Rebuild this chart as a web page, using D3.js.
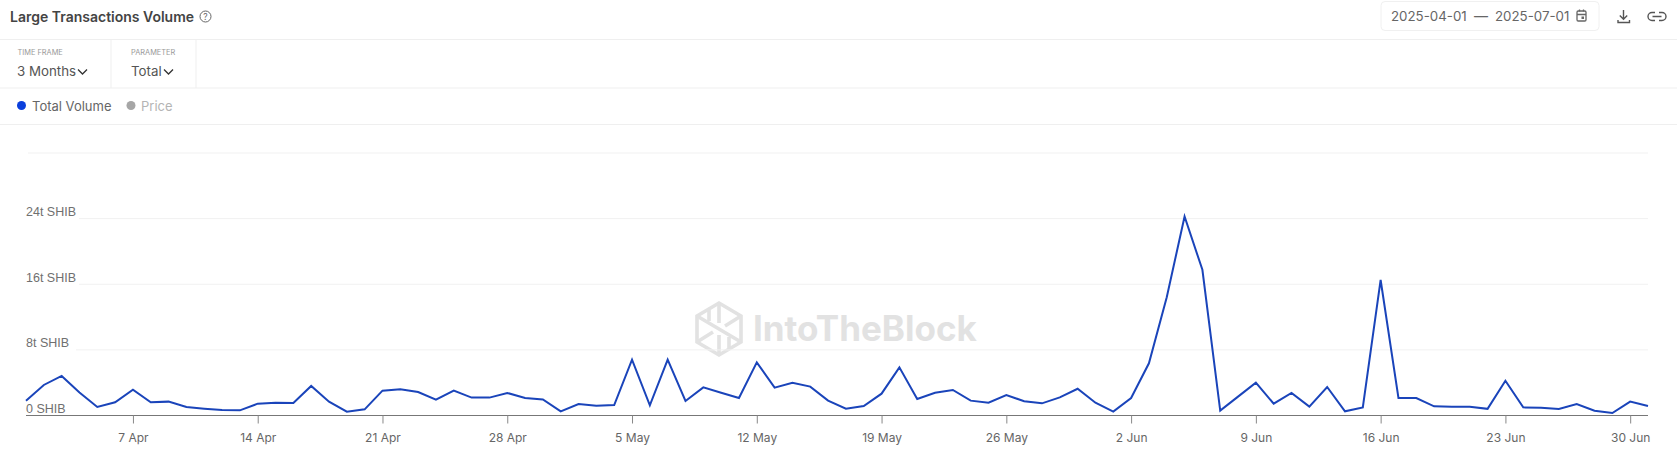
<!DOCTYPE html>
<html><head><meta charset="utf-8">
<script src="https://cdn.jsdelivr.net/npm/d3@7/dist/d3.min.js"></script>
<style>
html,body{margin:0;padding:0;background:#fff;overflow:hidden}
svg{display:block;font-family:Inter,"Noto Sans",sans-serif}
</style></head><body>
<svg id="c" width="1677" height="451"></svg>
<script>
const startDate = "2025-04-01";
const volumes = [
 1.75,3.66,4.76,2.73,0.98,1.55,3.09,1.55,1.63,0.98,0.77,0.60,0.57,1.38,1.50,1.47,3.54,1.63,0.41,0.69,
 2.97,3.13,2.80,1.87,2.97,2.12,2.12,2.69,2.08,1.90,0.45,1.34,1.14,1.22,6.75,1.18,6.75,1.71,3.37,2.72,2.07,
 6.42,3.33,3.94,3.46,1.75,0.77,1.10,2.60,5.81,1.95,2.72,3.05,1.75,1.50,2.44,1.67,1.42,2.15,3.20,1.50,0.41,
 2.07,6.30,14.35,24.20,17.70,0.53,2.24,3.94,1.38,2.68,1.02,3.41,0.45,0.93,16.46,2.07,2.07,1.06,1.02,1.02,
 0.75,4.17,0.93,0.89,0.73,1.34,0.53,0.24,1.63,1.10];
const yTicks = [0,8,16,24,32];
const yTickLabels = ["0 SHIB","8t SHIB","16t SHIB","24t SHIB",""];
const xTickDates = ["2025-04-07","2025-04-14","2025-04-21","2025-04-28","2025-05-05","2025-05-12","2025-05-19","2025-05-26","2025-06-02","2025-06-09","2025-06-16","2025-06-23","2025-06-30"];
const xTickLabels = ["7 Apr","14 Apr","21 Apr","28 Apr","5 May","12 May","19 May","26 May","2 Jun","9 Jun","16 Jun","23 Jun","30 Jun"];

const svg = d3.select("#c");
const day0 = new Date(startDate+"T00:00:00Z");
const dates = volumes.map((_,i)=>d3.utcDay.offset(day0,i));
const x = d3.scaleUtc().domain([dates[0],dates[dates.length-1]]).range([26,1648]);
const y = d3.scaleLinear().domain([0,32]).range([415,152.5]);

// page dividers
const rule = "#efefef";
[[0,1677,39.5,39.5],[0,1677,88,88],[0,1677,124.5,124.5],[111,111,39,88],[196,196,39,88]].forEach(d=>{
  svg.append("line").attr("x1",d[0]).attr("x2",d[1]).attr("y1",d[2]).attr("y2",d[3]).attr("stroke",rule);
});

const text=(t,px,py,size,fill,weight,anchor)=>svg.append("text").attr("x",px).attr("y",py)
  .attr("font-size",size).attr("fill",fill).attr("font-weight",weight||400).attr("text-anchor",anchor||"start").text(t);

// header
text("Large Transactions Volume",10,22,14,"#444",600);
svg.append("circle").attr("cx",205.5).attr("cy",16.5).attr("r",5.5).attr("fill","none").attr("stroke","#666").attr("stroke-width",1);
text("?",205.5,20,8.5,"#666",400,"middle");
svg.append("rect").attr("x",1381).attr("y",1.5).attr("width",218).attr("height",29).attr("rx",4).attr("fill","#fff").attr("stroke","#f0f0f0");
text("2025-04-01",1391,21,13.3,"#666");
text("—",1474,21,14,"#666");
text("2025-07-01",1495,21,13.3,"#666");
// calendar icon
svg.append("rect").attr("x",1577).attr("y",11).attr("width",9).attr("height",10).attr("rx",1.2).attr("fill","none").attr("stroke","#666").attr("stroke-width",1.3);
svg.append("path").attr("d","M1577 14.5H1586M1579.5 9.5V11.5M1583.5 9.5V11.5").attr("stroke","#666").attr("stroke-width",1.3).attr("fill","none");
svg.append("rect").attr("x",1581.5).attr("y",16.5).attr("width",2.5).attr("height",2.5).attr("fill","#666");
// download icon
svg.append("path").attr("d","M1623.5 10V19M1619.8 15.5L1623.5 19.2L1627.2 15.5M1618 20V22.5H1629.5V20").attr("fill","none").attr("stroke","#555").attr("stroke-width",1.4);
// link icon
svg.append("path").attr("d","M1655 12.5H1652a4 4 0 0 0 0 8H1655M1659 12.5H1662a4 4 0 0 1 0 8H1659M1652.5 16.5H1661.5").attr("fill","none").attr("stroke","#555").attr("stroke-width",1.4);

// filters
text("TIME FRAME",17.5,55,7.4,"#999");
text("3 Months",17,76,13.3,"#555");
svg.append("path").attr("d","M78 69.5L82.5 74L87 69.5").attr("fill","none").attr("stroke","#333").attr("stroke-width",1.3);
text("PARAMETER",131,55,7.4,"#999");
text("Total",131,76,13.3,"#555");
svg.append("path").attr("d","M164 69.5L168.5 74L173 69.5").attr("fill","none").attr("stroke","#333").attr("stroke-width",1.3);

// legend
svg.append("circle").attr("cx",21.5).attr("cy",105.5).attr("r",4.5).attr("fill","#0b3fdc");
text("Total Volume",32,110.5,13,"#666");
svg.append("circle").attr("cx",131).attr("cy",105.5).attr("r",4.5).attr("fill","#a6a6a6");
text("Price",141,110.5,13,"#b4b4b4");

// watermark
const wm = svg.append("g").attr("fill","none").attr("stroke","#e2e2e2").attr("stroke-width",3.6).attr("transform","translate(719,329)");
wm.append("path").attr("d","M0-26L22-13V13L0 26L-22 13V-13Z");
wm.append("path").attr("d","M-22-13L22 13M-22 13L-6 3M22-13L6-3M0-26V-6M0 6V26M-10-19L-10-8M10 8L10 19");
text("IntoTheBlock",753,341,35,"#e2e2e2",700);

// grid
const gridStart = [26,76,79,79,28];
svg.append("g").selectAll("line").data(yTicks.slice(1)).join("line")
  .attr("x1",(d,i)=>gridStart[i+1]).attr("x2",x.range()[1])
  .attr("y1",d=>y(d)+.5).attr("y2",d=>y(d)+.5).attr("stroke","#f1f1f1");

// y axis labels
const yAxis = d3.axisRight(y).tickValues(yTicks).tickSize(0).tickPadding(0).tickFormat((d,i)=>yTickLabels[i]);
const gy = svg.append("g").attr("transform","translate(26,0)").call(yAxis);
gy.select(".domain").remove();
gy.selectAll("text").attr("font-family",null).attr("font-size",12.5).attr("fill","#707070").attr("dy","-0.2em").attr("y",0);

// x axis
const xAxis = d3.axisBottom(x).tickValues(xTickDates.map(d=>new Date(d+"T00:00:00Z"))).tickSize(8).tickPadding(10)
  .tickFormat((d,i)=>xTickLabels[i]);
const gx = svg.append("g").attr("transform","translate(0,415.5)").call(xAxis);
gx.select(".domain").attr("stroke","#777").attr("d",`M${x.range()[0]},0H${x.range()[1]}`);
gx.selectAll(".tick line").attr("stroke","#888");
gx.selectAll("text").attr("font-size",12).attr("fill","#666");
gx.attr("font-family",null);

// line
const line = d3.line().x((d,i)=>x(dates[i])).y(d=>y(d));
svg.append("path").datum(volumes).attr("d",line).attr("fill","none").attr("stroke","#1a44ba").attr("stroke-width",2).attr("stroke-linejoin","miter");
</script>
</body></html>
